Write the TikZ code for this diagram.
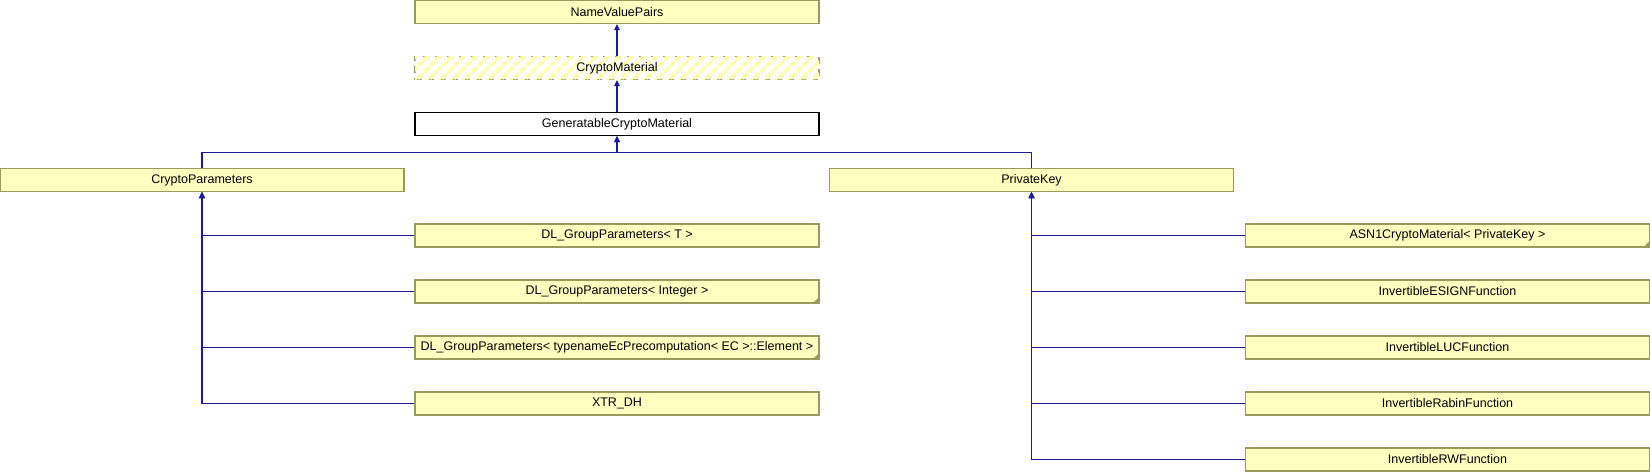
\documentclass[tikz,border=0pt]{standalone}
\usepackage{fontspec}
\setmainfont{Liberation Sans}
\usetikzlibrary{arrows.meta,patterns.meta}
\definecolor{boxfill}{HTML}{FFFFC0}
\definecolor{boxline}{HTML}{9A9A5C}
\definecolor{edgecol}{HTML}{1C1C9A}
\definecolor{hatchcol}{HTML}{FFFFB4}
\begin{document}
\begin{tikzpicture}[x=1pt,y=-1pt,
  cls/.style={draw=boxline,fill=boxfill,line width=1.2pt,minimum width=404pt,
    minimum height=23pt,inner sep=0pt,font=\fontsize{12.5}{14}\selectfont},
  hatched/.style={cls,fill=white,dash pattern=on 7pt off 5pt,
    postaction={pattern={Lines[angle=45,distance=8.5pt,line width=4.2pt]},pattern color=hatchcol}},
  plain/.style={cls,draw=black,fill=white},
  arr/.style={draw=edgecol,line width=1.2pt,-{Triangle[width=5.5pt,length=6pt]}},
  corner/.style={fill=boxline}
]
\useasboundingbox (0,0) rectangle (1650,472);
% top chain
\node[cls]     (nvp) at (617,12)  {NameValuePairs};
\node[hatched] (cm)  at (617,68)  {CryptoMaterial};
\node[plain]   (gcm) at (617,124) {GeneratableCryptoMaterial};
% second level
\node[cls] (cp) at (202,180)    {CryptoParameters};
\node[cls] (pk) at (1031.5,180) {PrivateKey};
% left children
\node[cls] (dl1) at (617,235.5) {DL\_GroupParameters< T >};
\node[cls] (dl2) at (617,291.5) {DL\_GroupParameters< Integer >};
\node[cls] (dl3) at (617,347.5) {DL\_GroupParameters< typenameEcPrecomputation< EC >::Element >};
\node[cls] (xtr) at (617,403.5) {XTR\_DH};
% right children
\node[cls] (asn) at (1447.5,235.5) {ASN1CryptoMaterial< PrivateKey >};
\node[cls] (ies) at (1447.5,291.5) {InvertibleESIGNFunction};
\node[cls] (ilu) at (1447.5,347.5) {InvertibleLUCFunction};
\node[cls] (ira) at (1447.5,403.5) {InvertibleRabinFunction};
\node[cls] (irw) at (1447.5,459.5) {InvertibleRWFunction};
% template corners
\foreach \n in {dl2,dl3,asn}
  \fill[corner] (\n.south east) -- ++(-7,0) -- ++(7,-7) -- cycle;
% connectors
\draw[arr] (cm.north) -- (nvp.south);
\draw[arr] (gcm.north) -- (cm.south);
\draw[arr] (cp.north) |- ([yshift=-16pt]gcm.south) -- (gcm.south);
\draw[arr] (pk.north) |- ([yshift=-16pt]gcm.south) -- (gcm.south);
\foreach \c in {dl1,dl2,dl3,xtr}
  \draw[arr] (\c.west) -| (cp.south);
\foreach \c in {asn,ies,ilu,ira,irw}
  \draw[arr] (\c.west) -| (pk.south);
\end{tikzpicture}
\end{document}
